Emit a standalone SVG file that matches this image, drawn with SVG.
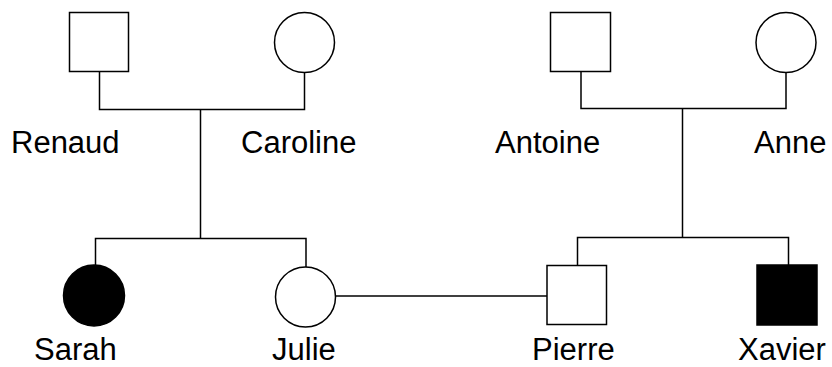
<svg xmlns="http://www.w3.org/2000/svg" width="832" height="367" viewBox="0 0 832 367">
<style>
.s{fill:#fff;stroke:#000;stroke-width:1.5}
.f{fill:#000;stroke:#000;stroke-width:1.5}
.l{fill:none;stroke:#000;stroke-width:1.5}
text{font-family:"Liberation Sans",Arial,sans-serif;font-size:31px;fill:#000}
</style>
<rect width="832" height="367" fill="#fff"/>
<g id="connectors">
<polyline class="l" points="99.5,71.5 99.5,109.5 304.5,109.5 304.5,72.5"/>
<line class="l" x1="200.5" y1="109.5" x2="200.5" y2="238.5"/>
<polyline class="l" points="95.5,265 95.5,238.5 306,238.5 306,267"/>
<polyline class="l" points="581,71.5 581,108.5 786,108.5 786,72.5"/>
<line class="l" x1="682.5" y1="108.5" x2="682.5" y2="237.5"/>
<polyline class="l" points="577.5,265.5 577.5,237.5 788.5,237.5 788.5,265"/>
<line class="l" x1="335.5" y1="296" x2="547" y2="296"/>
</g>
<g id="renaud"><rect class="s" x="69.5" y="12.5" width="59" height="59"/><text x="11" y="153">Renaud</text></g>
<g id="caroline"><circle class="s" cx="304.5" cy="42.5" r="30"/><text x="241" y="153">Caroline</text></g>
<g id="antoine"><rect class="s" x="550.5" y="12.5" width="60" height="59"/><text x="495" y="153">Antoine</text></g>
<g id="anne"><circle class="s" cx="786" cy="42.5" r="30"/><text x="754" y="153">Anne</text></g>
<g id="sarah"><circle class="f" cx="94" cy="295.5" r="30.5"/><text x="34" y="360">Sarah</text></g>
<g id="julie"><circle class="s" cx="305.5" cy="297" r="30"/><text x="272" y="360">Julie</text></g>
<g id="pierre"><rect class="s" x="547" y="265.5" width="59.5" height="59"/><text x="532" y="360">Pierre</text></g>
<g id="xavier"><rect class="f" x="757" y="265" width="60" height="60"/><text x="738" y="360">Xavier</text></g>
</svg>
